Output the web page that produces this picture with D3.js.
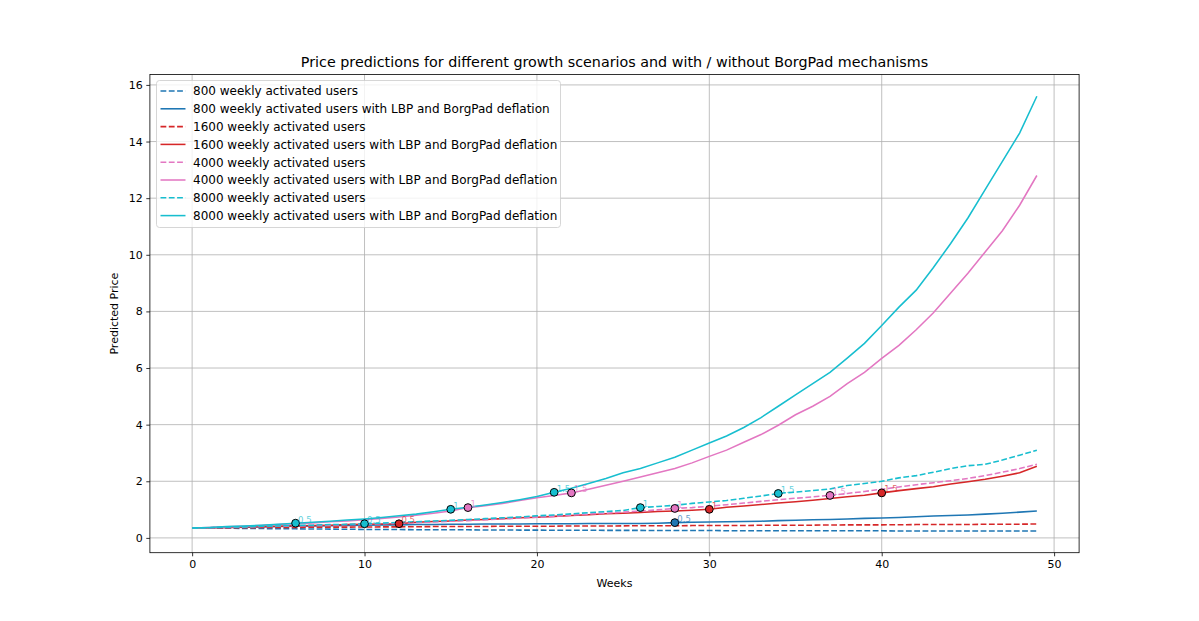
<!DOCTYPE html>
<html><head><meta charset="utf-8">
<script src="https://cdn.jsdelivr.net/npm/d3@7"></script>
<style>
body{margin:0;background:#fff;}
svg{display:block;font-family:"DejaVu Sans",sans-serif;}
</style></head><body>
<svg id="c" width="1199" height="621"></svg>
<script>
const weeks = d3.range(0, 50);
const xTicks = [0, 10, 20, 30, 40, 50];
const yTicks = [0, 2, 4, 6, 8, 10, 12, 14, 16];
const seriesNames = [
  "800 weekly activated users",
  "800 weekly activated users with LBP and BorgPad deflation",
  "1600 weekly activated users",
  "1600 weekly activated users with LBP and BorgPad deflation",
  "4000 weekly activated users",
  "4000 weekly activated users with LBP and BorgPad deflation",
  "8000 weekly activated users",
  "8000 weekly activated users with LBP and BorgPad deflation"
];
const seriesColors = ["#1f77b4","#1f77b4","#d62728","#d62728","#e377c2","#e377c2","#17becf","#17becf"];
const seriesDashed = [true,false,true,false,true,false,true,false];

const u800 = [0.35,0.345,0.34,0.335,0.33,0.325,0.32,0.315,0.31,0.305,0.30,0.30,0.295,0.29,0.29,0.285,0.285,0.28,0.28,0.275,0.275,0.27,0.27,0.27,0.265,0.265,0.265,0.26,0.26,0.26,0.26,0.255,0.255,0.255,0.255,0.25,0.25,0.25,0.25,0.25,0.25,0.245,0.245,0.245,0.245,0.245,0.245,0.245,0.245,0.245];
const u800LBP = [0.35,0.36,0.37,0.38,0.39,0.40,0.41,0.42,0.43,0.44,0.45,0.46,0.46,0.47,0.47,0.48,0.48,0.49,0.49,0.49,0.50,0.50,0.50,0.51,0.51,0.51,0.51,0.52,0.54,0.55,0.56,0.57,0.58,0.59,0.61,0.62,0.64,0.65,0.67,0.69,0.70,0.72,0.75,0.77,0.79,0.81,0.84,0.87,0.91,0.95];
const u1600 = [0.35,0.355,0.36,0.36,0.365,0.37,0.37,0.375,0.38,0.38,0.385,0.39,0.39,0.395,0.40,0.40,0.40,0.405,0.41,0.41,0.41,0.415,0.42,0.42,0.42,0.425,0.43,0.43,0.43,0.435,0.44,0.44,0.44,0.445,0.45,0.45,0.45,0.455,0.46,0.46,0.46,0.465,0.47,0.47,0.47,0.475,0.48,0.48,0.485,0.49];
const u1600LBP = [0.35,0.36,0.37,0.39,0.40,0.41,0.43,0.44,0.45,0.47,0.48,0.49,0.50,0.55,0.58,0.60,0.63,0.65,0.68,0.71,0.73,0.76,0.79,0.82,0.85,0.87,0.90,0.93,0.95,0.98,1.01,1.08,1.13,1.18,1.23,1.28,1.33,1.39,1.45,1.51,1.59,1.67,1.74,1.81,1.90,1.98,2.07,2.18,2.30,2.53];
const u4000 = [0.35,0.36,0.37,0.38,0.40,0.41,0.42,0.44,0.45,0.47,0.48,0.50,0.52,0.54,0.56,0.59,0.61,0.64,0.67,0.70,0.73,0.76,0.80,0.84,0.87,0.91,0.95,0.99,1.04,1.07,1.12,1.17,1.23,1.29,1.35,1.40,1.45,1.50,1.57,1.64,1.72,1.80,1.88,1.95,2.02,2.10,2.20,2.32,2.45,2.60];
const u4000LBP = [0.35,0.37,0.39,0.41,0.44,0.47,0.50,0.53,0.57,0.60,0.64,0.69,0.74,0.80,0.87,0.95,1.07,1.14,1.22,1.32,1.42,1.50,1.59,1.72,1.86,2.00,2.15,2.30,2.45,2.65,2.88,3.10,3.38,3.65,3.98,4.35,4.65,5.00,5.45,5.85,6.34,6.80,7.35,7.95,8.65,9.35,10.10,10.85,11.75,12.80];
const u8000 = [0.35,0.36,0.38,0.39,0.41,0.42,0.44,0.45,0.47,0.48,0.50,0.52,0.55,0.57,0.60,0.62,0.65,0.68,0.71,0.74,0.78,0.81,0.85,0.89,0.93,0.97,1.07,1.11,1.15,1.22,1.27,1.32,1.40,1.48,1.57,1.62,1.67,1.73,1.85,1.92,2.00,2.12,2.20,2.32,2.45,2.55,2.60,2.75,2.92,3.10];
const u8000LBP = [0.35,0.37,0.40,0.42,0.45,0.48,0.52,0.55,0.59,0.63,0.67,0.72,0.78,0.84,0.92,1.01,1.08,1.16,1.25,1.35,1.46,1.61,1.75,1.92,2.10,2.30,2.45,2.65,2.85,3.10,3.35,3.60,3.90,4.25,4.65,5.05,5.45,5.85,6.35,6.87,7.50,8.15,8.75,9.55,10.40,11.30,12.30,13.30,14.30,15.60];
const seriesValues = [u800,u800LBP,u1600,u1600LBP,u4000,u4000LBP,u8000,u8000LBP];

// milestone markers: series index, week, label
const markerSeries = [7,7,7,6,6,6,5,5,4,4,3,3,3,1];
const markerWeeks  = [6,15,21,10,26,34,16,22,28,37,12,30,40,28];
const markerLabels = ["0.5","1","1.5","0.5","1","1.5","1","1.5","1","1.5","0.5","1","1.5","0.5"];

const svg = d3.select("#c");
const L = 149.9, R = 1079.1, T = 74.5, B = 552.7;
const allVals = seriesValues.flat();
const xmin = 0, xmax = 49, xr = xmax - xmin;
const ymin = d3.min(allVals), ymax = d3.max(allVals), yr = ymax - ymin;
const x = d3.scaleLinear().domain([xmin - 0.05*xr, xmax + 0.05*xr]).range([L, R]);
const y = d3.scaleLinear().domain([ymin - 0.05*yr, ymax + 0.05*yr]).range([B, T]);

// grid
const g = svg.append("g");
g.selectAll(".gx").data(xTicks).join("line")
  .attr("x1", d => x(d)).attr("x2", d => x(d)).attr("y1", T).attr("y2", B)
  .attr("stroke", "#b0b0b0").attr("stroke-width", 0.8);
g.selectAll(".gy").data(yTicks).join("line")
  .attr("y1", d => y(d)).attr("y2", d => y(d)).attr("x1", L).attr("x2", R)
  .attr("stroke", "#b0b0b0").attr("stroke-width", 0.8);

// lines
const line = d3.line().x((d, i) => x(weeks[i])).y(d => y(d));
svg.append("clipPath").attr("id","clp").append("rect").attr("x",L).attr("y",T).attr("width",R-L).attr("height",B-T);
const lg = svg.append("g").attr("clip-path","url(#clp)");
seriesValues.forEach((vals, k) => {
  lg.append("path").attr("d", line(vals)).attr("fill","none")
    .attr("stroke", seriesColors[k]).attr("stroke-width", 1.55)
    .attr("stroke-dasharray", seriesDashed[k] ? "5.8,2.5" : null);
});

// markers
markerSeries.forEach((s, i) => {
  const w = markerWeeks[i];
  const cx = x(w), cy = y(seriesValues[s][w]);
  lg.append("circle").attr("cx", cx).attr("cy", cy).attr("r", 3.9)
    .attr("fill", seriesColors[s]).attr("stroke", "#000").attr("stroke-width", 1);
  lg.append("text").attr("x", cx + 2.5).attr("y", cy - 0.5)
    .attr("font-size", 8.5).attr("fill", seriesColors[s]).attr("opacity", 0.7)
    .text(markerLabels[i]);
});

// axes
const xa = svg.append("g").attr("transform", `translate(0,${B})`)
  .call(d3.axisBottom(x).tickValues(xTicks).tickSize(3.6).tickPadding(3.6).tickFormat(d3.format("d")));
const ya = svg.append("g").attr("transform", `translate(${L},0)`)
  .call(d3.axisLeft(y).tickValues(yTicks).tickSize(3.6).tickPadding(3.6).tickFormat(d3.format("d")));
[xa, ya].forEach(a => {
  a.select(".domain").remove();
  a.selectAll("line").attr("stroke", "#000").attr("stroke-width", 0.8);
  a.selectAll("text").attr("font-size", 11).attr("fill", "#000").attr("font-family", "DejaVu Sans");
});
svg.append("rect").attr("x", L).attr("y", T).attr("width", R-L).attr("height", B-T)
  .attr("fill", "none").attr("stroke", "#000").attr("stroke-width", 0.8);

// labels
svg.append("text").attr("x", (L+R)/2).attr("y", 587).attr("text-anchor","middle")
  .attr("font-size", 11).text("Weeks");
svg.append("text").attr("transform", `translate(118,${(T+B)/2}) rotate(-90)`).attr("text-anchor","middle")
  .attr("font-size", 11).text("Predicted Price");
svg.append("text").attr("x", (L+R)/2).attr("y", 67).attr("text-anchor","middle")
  .attr("font-size", 14.3).text("Price predictions for different growth scenarios and with / without BorgPad mechanisms");

// legend
const legX = 156.5, legY = 80.5, legW = 404, legH = 147, rowH = 17.8;
const leg = svg.append("g");
leg.append("rect").attr("x", legX).attr("y", legY).attr("width", legW).attr("height", legH)
  .attr("rx", 3).attr("fill", "#fff").attr("fill-opacity", 0.8).attr("stroke", "#cccccc").attr("stroke-width", 0.8);
seriesNames.forEach((name, k) => {
  const cy = legY + 10.5 + k * rowH;
  leg.append("line").attr("x1", legX + 4).attr("x2", legX + 29).attr("y1", cy).attr("y2", cy)
    .attr("stroke", seriesColors[k]).attr("stroke-width", 1.55)
    .attr("stroke-dasharray", seriesDashed[k] ? "5.8,2.5" : null);
  leg.append("text").attr("x", legX + 36.5).attr("y", cy).attr("dy", "0.36em")
    .attr("font-size", 12).attr("fill", "#000").text(name);
});
</script>
</body></html>
